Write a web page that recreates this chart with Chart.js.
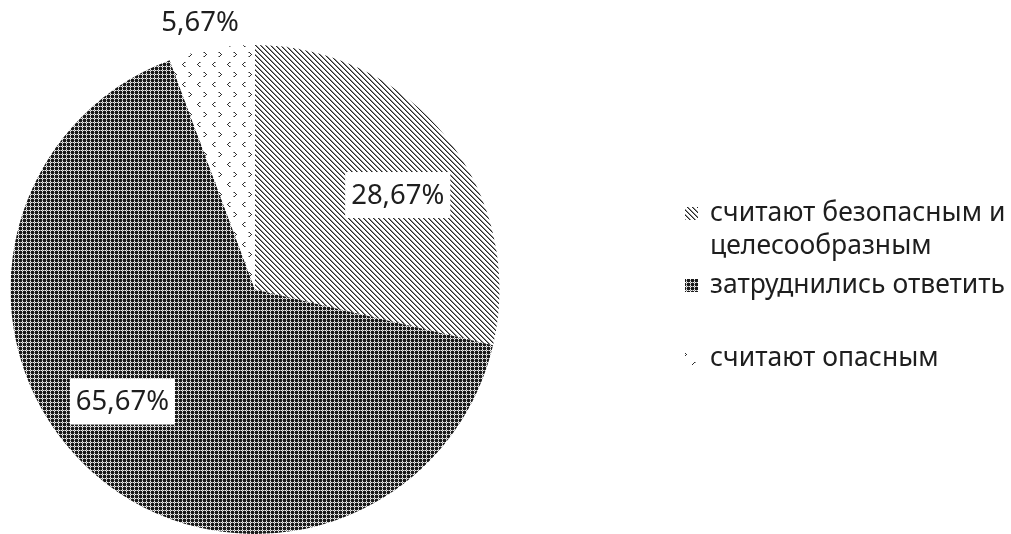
<!DOCTYPE html>
<html>
<head>
<meta charset="utf-8">
<script src="https://cdn.jsdelivr.net/npm/chart.js@4.4.1/dist/chart.umd.min.js"></script>
<style>
  html, body { margin: 0; padding: 0; background: #fff; }
  #wrap { width: 1011px; height: 534px; }
</style>
</head>
<body>
<div id="wrap"><canvas id="pie" width="1011" height="534"></canvas></div>
<script>
// данные с рисунка
var labels = [['считают безопасным и', 'целесообразным'], 'затруднились ответить', 'считают опасным'];
var values = [28.67, 65.67, 5.67];
var valueLabels = ['28,67%', '65,67%', '5,67%'];

var FONT = '"Noto Sans", "Open Sans", sans-serif';

function makePattern(w, h, draw) {
  var c = document.createElement('canvas');
  c.width = w;
  c.height = h;
  var g = c.getContext('2d');
  draw(g, w, h);
  return document.getElementById('pie').getContext('2d').createPattern(c, 'repeat');
}

function px(g, color, pts) {
  g.fillStyle = color;
  pts.forEach(function (p) { g.fillRect(p[0], p[1], 1, 1); });
}

// косая штриховка
var hatch = makePattern(5, 5, function (g, w, h) {
  g.fillStyle = '#fff';
  g.fillRect(0, 0, w, h);
  for (var i = 0; i < 5; i++) {
    px(g, '#262626', [[i, i]]);
    px(g, '#8a8a8a', [[(i + 1) % 5, i]]);
  }
});

// тёмная сетка
var weave = makePattern(4, 4, function (g, w, h) {
  var map = ['BBGB', 'BBWB', 'GWGW', 'BBWB'];
  var col = { B: '#1a1a1a', G: '#8c8c8c', W: '#f0f0f0' };
  for (var y = 0; y < h; y++) {
    for (var x = 0; x < w; x++) {
      px(g, col[map[y][x]], [[x, y]]);
    }
  }
});

// редкие значки
var dots = makePattern(15, 20, function (g, w, h) {
  g.fillStyle = '#fff';
  g.fillRect(0, 0, w, h);
  px(g, '#2e2e2e', [[4, 2], [3, 3], [2, 4], [3, 5], [4, 6]]);
  px(g, '#2e2e2e', [[9, 12], [10, 13], [11, 14], [10, 15], [9, 16]]);
  px(g, '#999', [[5, 2], [5, 6], [8, 12], [8, 16]]);
});

var fills = [hatch, weave, dots];

var valueLabelPlugin = {
  id: 'valueLabels',
  afterDatasetsDraw: function (chart, args, opts) {
    var ctx = chart.ctx;
    var meta = chart.getDatasetMeta(0);
    ctx.save();
    ctx.font = opts.size + 'px ' + FONT;
    ctx.textAlign = 'center';
    ctx.textBaseline = 'middle';
    meta.data.forEach(function (arc, i) {
      var p = arc.getProps(['x', 'y', 'startAngle', 'endAngle', 'outerRadius'], true);
      var place = opts.place[i];
      var a = (p.startAngle + p.endAngle) / 2 + place.shift * Math.PI / 180;
      var r = p.outerRadius * place.frac;
      var x = p.x + Math.cos(a) * r;
      var y = p.y + Math.sin(a) * r;
      var text = valueLabels[i];
      if (place.box) {
        var tw = ctx.measureText(text).width;
        ctx.fillStyle = '#fff';
        ctx.fillRect(x - tw / 2 - 6, y - 23, tw + 12, 46);
      }
      ctx.fillStyle = '#1e1e1e';
      ctx.fillText(text, x, y + 1);
    });
    ctx.restore();
  }
};

var sideLegendPlugin = {
  id: 'sideLegend',
  afterDraw: function (chart, args, opts) {
    var ctx = chart.ctx;
    var ds = chart.data.datasets[0];
    ctx.save();
    ctx.font = opts.size + 'px ' + FONT;
    ctx.textBaseline = 'middle';
    ctx.textAlign = 'left';
    chart.data.labels.forEach(function (lab, i) {
      var y = opts.rows[i];
      ctx.fillStyle = ds.backgroundColor[i];
      ctx.fillRect(opts.x, y - 6, 13, 13);
      ctx.fillStyle = '#1e1e1e';
      var lines = Array.isArray(lab) ? lab : [lab];
      lines.forEach(function (t, k) {
        ctx.fillText(t, opts.x + 25, y + k * opts.lineHeight);
      });
    });
    ctx.restore();
  }
};

new Chart(document.getElementById('pie'), {
  type: 'pie',
  data: {
    labels: labels,
    datasets: [{
      data: values,
      backgroundColor: fills,
      borderWidth: 0
    }]
  },
  options: {
    responsive: false,
    animation: false,
    devicePixelRatio: 1,
    layout: { padding: { left: 10, right: 511, top: 45, bottom: 0 } },
    plugins: {
      legend: { display: false },
      tooltip: { enabled: false },
      valueLabels: {
        size: 27.5,
        place: [
          { shift: 4.9, frac: 0.70, box: true },
          { shift: 8.4, frac: 0.71, box: true },
          { shift: -1.4, frac: 1.117, box: false }
        ]
      },
      sideLegend: { x: 685, rows: [213, 285, 358], lineHeight: 33, size: 26.5 }
    }
  },
  plugins: [valueLabelPlugin, sideLegendPlugin]
});
</script>
</body>
</html>
